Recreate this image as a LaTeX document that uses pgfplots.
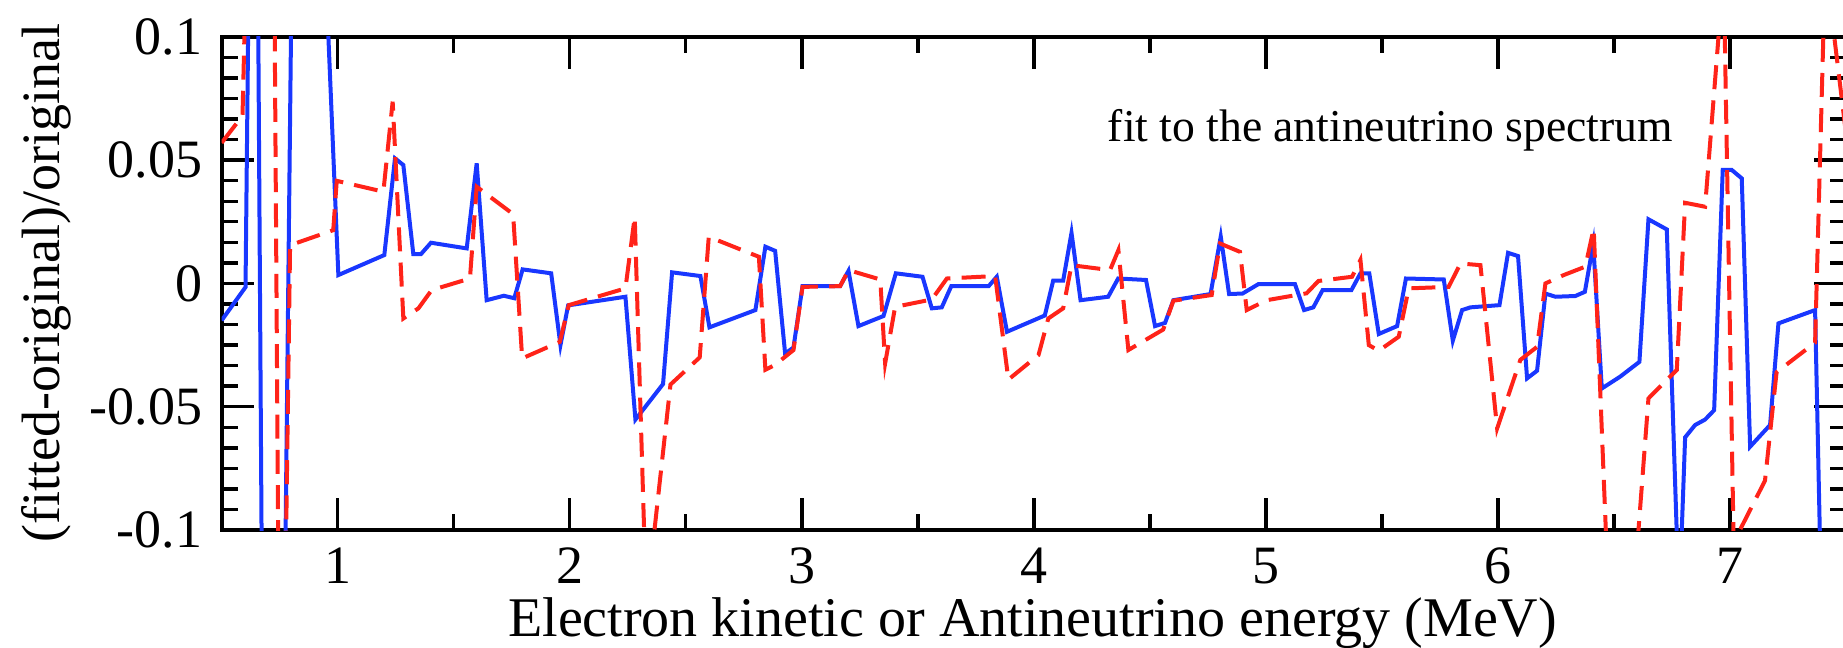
\documentclass[border=0pt]{standalone}
\usepackage{pgfplots}
\pgfplotsset{compat=1.18}
\usepackage{fontspec}
\setmainfont{Liberation Serif}
\definecolor{myblue}{RGB}{25,55,255}
\definecolor{myred}{RGB}{255,35,25}
\begin{document}
\begin{tikzpicture}
\begin{axis}[
 scale only axis, width=406.1pt, height=123.3pt,
 xmin=0.5, xmax=7.5, ymin=-0.1, ymax=0.1,
 axis line style={line width=0.95pt},
 tick align=inside, xtick pos=both, ytick pos=both,
 xtick={1,2,3,4,5,6,7}, xticklabels={1,2,3,4,5,6,7},
 ytick={-0.1,-0.05,0,0.05,0.1}, yticklabels={-0.1,-0.05,0,0.05,0.1},
 minor x tick num=1, minor y tick num=5,
 major tick length=8pt, minor tick length=4pt,
 every tick/.style={black, line width=0.85pt},
 xticklabel style={font=\fontsize{13.5}{16}\selectfont, anchor=base, yshift=-13.25pt, inner sep=0pt},
 yticklabel style={font=\fontsize{13.5}{16}\selectfont, anchor=east, xshift=-4.7pt, inner sep=0pt},
 xlabel={Electron kinetic or Antineutrino energy (MeV)},
 ylabel={(fitted-original)/original},
 xlabel style={font=\fontsize{14}{16}\selectfont, at={(axis description cs:0.4992,-0.215)}, anchor=base, inner sep=0pt},
 ylabel style={font=\fontsize{13.5}{16}\selectfont, at={(axis description cs:-0.1076,0.5)}, anchor=center},
]
\addplot[myblue, line width=1pt] coordinates {
(0.5,-0.015) (0.603,-0.0015) (0.641,0.347) (0.711,-0.662) (0.832,0.388)
(1.003,0.0034) (1.201,0.0115) (1.247,0.0507) (1.283,0.048) (1.326,0.0119)
(1.359,0.0119) (1.402,0.0165) (1.556,0.0142) (1.599,0.0487) (1.642,-0.0068)
(1.716,-0.005) (1.761,-0.006) (1.797,0.0057) (1.920,0.0041) (1.960,-0.025)
(1.993,-0.0089) (2.240,-0.0054) (2.283,-0.0552) (2.402,-0.0408) (2.441,0.0045)
(2.563,0.003) (2.602,-0.0178) (2.800,-0.0108) (2.843,0.0149) (2.885,0.0132)
(2.928,-0.0284) (2.964,-0.026) (3.003,-0.0011) (3.165,-0.0011) (3.201,0.0051)
(3.244,-0.0173) (3.352,-0.0132) (3.405,0.0041) (3.52,0.0027) (3.56,-0.0101)
(3.603,-0.0097) (3.644,-0.0011) (3.805,-0.0011) (3.84,0.0027) (3.884,-0.0196)
(4.047,-0.013) (4.083,0.0011) (4.126,0.0011) (4.162,0.0205) (4.201,-0.0068)
(4.320,-0.0054) (4.363,0.002) (4.483,0.0014) (4.522,-0.0173) (4.565,-0.016)
(4.601,-0.0068) (4.761,-0.0043) (4.805,0.019) (4.841,-0.0043) (4.899,-0.0041)
(4.967,-0.0003) (5.125,-0.0003) (5.164,-0.0108) (5.204,-0.0097) (5.244,-0.0027)
(5.368,-0.0027) (5.407,0.0041) (5.445,0.0041) (5.486,-0.0205) (5.565,-0.0173)
(5.603,0.002) (5.766,0.0016) (5.805,-0.0232) (5.845,-0.0108) (5.881,-0.0097)
(6.006,-0.0088) (6.043,0.0124) (6.086,0.0111) (6.125,-0.0385) (6.168,-0.0354)
(6.204,-0.0041) (6.247,-0.0054) (6.333,-0.0051) (6.374,-0.0034) (6.41,0.016)
(6.447,-0.0426) (6.526,-0.0378) (6.609,-0.0318) (6.648,0.026) (6.727,0.0219)
(6.78,-0.13) (6.806,-0.0624) (6.849,-0.0574) (6.892,-0.0552) (6.931,-0.0514)
(6.968,0.046) (7.007,0.046) (7.05,0.0426) (7.086,-0.0662) (7.172,-0.0574)
(7.208,-0.0162) (7.366,-0.0108) (7.42,-0.25)
};
\addplot[myred, line width=1pt, dash pattern=on 6pt off 2.8pt] coordinates {
(0.5,0.057) (0.59,0.068) (0.70,0.5) (0.755,-0.26) (0.795,0.0155)
(0.981,0.0216) (0.996,0.0416) (1.197,0.0372) (1.237,0.0737) (1.283,-0.0142)
(1.348,-0.0101) (1.405,-0.0027) (1.570,0.002) (1.599,0.0392) (1.756,0.0281)
(1.795,-0.0304) (1.957,-0.0237) (1.996,-0.0088) (2.240,-0.002) (2.280,0.027)
(2.33,-0.13) (2.434,-0.041) (2.56,-0.030) (2.599,0.0189) (2.815,0.0108)
(2.843,-0.035) (2.885,-0.033) (2.964,-0.027) (3.003,-0.0014) (3.165,-0.0011)
(3.201,0.0054) (3.338,0.0016) (3.359,-0.0324) (3.402,-0.0095) (3.56,-0.0065)
(3.625,0.002) (3.833,0.003) (3.89,-0.039) (4.02,-0.029) (4.062,-0.0142)
(4.126,-0.0101) (4.162,0.0074) (4.328,0.0054) (4.364,0.0135) (4.407,-0.027)
(4.557,-0.0187) (4.601,-0.007) (4.766,-0.0047) (4.802,0.0162) (4.888,0.0128)
(4.917,-0.0108) (5.003,-0.0068) (5.175,-0.004) (5.226,0.001) (5.371,0.0027)
(5.407,0.0095) (5.443,-0.025) (5.486,-0.0273) (5.572,-0.0216) (5.615,-0.002)
(5.787,-0.0014) (5.838,0.0081) (5.924,0.0074) (5.996,-0.0588) (6.096,-0.031)
(6.168,-0.0257) (6.204,0.0) (6.283,0.0034) (6.376,0.0068) (6.412,0.0223)
(6.513,-0.214) (6.648,-0.0466) (6.77,-0.0351) (6.806,0.0327) (6.892,0.0311)
(6.972,0.1265) (7.015,-0.105) (7.15,-0.08) (7.20,-0.036) (7.366,-0.024)
(7.41,0.13) (7.5,0.06)
};
\node[anchor=base west, inner sep=0pt, font=\fontsize{11.4}{13}\selectfont] at (axis cs:4.315,0.0574) {fit to the antineutrino spectrum};
\end{axis}
\pgfresetboundingbox
\path (-55.4pt,-29.25pt) rectangle (405.3pt,132.5pt);
\end{tikzpicture}
\end{document}
